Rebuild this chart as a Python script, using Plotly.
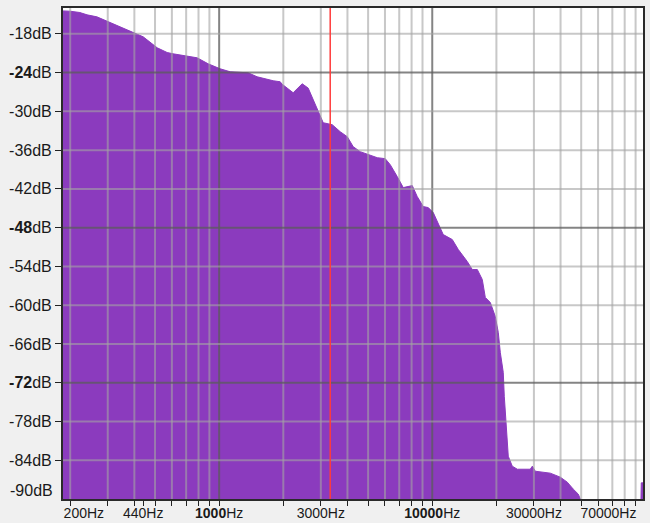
import math
import plotly.graph_objects as go

# ---- data ----
FREQ_HZ = [185, 200, 222, 240, 267, 301, 336, 390, 440, 512, 570, 608, 708, 788, 888,
           1011, 1126, 1368, 1508, 1609, 1680, 1793, 1934, 1976, 2225, 2453, 2617, 2762,
           2823, 2980, 3078, 3393, 3699, 3991, 4257, 4592, 5006, 5520, 6016, 6350, 6850,
           7310, 8056, 8503, 9073, 9577, 10108, 10670, 11260, 12416, 13248, 14600, 15410,
           16270, 17170, 17740, 18725, 19760, 20410, 20860, 21540, 21780, 22250, 22740,
           23740, 25070, 28840, 29480, 30450, 33200, 35810, 39900, 43030, 45920, 48460,
           49520, 50500, 95000, 95700, 97500]
LEVEL_DB = [-14.45, -14.5, -14.7, -15.06, -15.37, -16.1, -16.76, -17.64, -18.46, -20.16,
            -20.89, -21.09, -21.4, -21.71, -22.64, -23.41, -23.87, -24.03, -24.65, -24.9,
            -25.0, -25.26, -25.42, -25.8, -27.12, -25.73, -26.4, -28.2, -28.66, -30.52,
            -31.76, -32.06, -33.15, -33.92, -35.47, -36.24, -36.7, -37.17, -37.32, -38.25,
            -40.1, -41.8, -41.49, -43.19, -44.74, -44.89, -45.67, -47.52, -49.07, -49.84,
            -51.38, -53.24, -54.48, -54.48, -56.02, -58.8, -59.58, -61.74, -64.21, -67.3,
            -70.4, -74.1, -78.74, -83.38, -84.92, -85.39, -85.39, -84.92, -85.7, -85.8,
            -86.0, -86.62, -87.4, -88.48, -89.25, -90.0, -93.0, -93.0, -87.5, -87.5]

X_TICK_VALS = [200, 440, 1000, 3000, 10000, 30000, 70000]
X_TICK_TEXT = ["&nbsp;&nbsp;&nbsp;&nbsp;&nbsp;&nbsp;&nbsp;200Hz", "440Hz",
               "<b>1000</b>Hz", "3000Hz", "<b>10000</b>Hz", "30000Hz",
               "70000Hz&nbsp;&nbsp;"]
X_GRID_LIGHT = [200, 300, 400, 500, 600, 700, 800, 900,
                2000, 3000, 4000, 5000, 6000, 7000, 8000, 9000,
                20000, 30000, 40000, 50000, 60000, 70000, 80000, 90000]
X_GRID_DARK = [1000, 10000]

Y_TICK_VALS = [-18, -24, -30, -36, -42, -48, -54, -60, -66, -72, -78, -84]
Y_TICK_TEXT = ["-18dB", "<b>-24</b>dB", "-30dB", "-36dB", "-42dB", "<b>-48</b>dB",
               "-54dB", "-60dB", "-66dB", "<b>-72</b>dB", "-78dB", "-84dB"]
Y_BOTTOM_LABEL = "-90dB"
Y_GRID_LIGHT = [-18, -30, -36, -42, -54, -60, -66, -78, -84]
Y_GRID_DARK = [-24, -48, -72]

CURSOR_HZ = 3320
X_RANGE_HZ = [185, 97500]
Y_RANGE_DB = [-90, -14]
FLOOR_DB = -130

FILL = "#8b3bbe"
FONT = dict(family="Liberation Sans, Arial, sans-serif", size=16, color="#1a1a1a")

fig = go.Figure()
fig.add_trace(go.Scatter(x=FREQ_HZ, y=[FLOOR_DB] * len(FREQ_HZ), mode="lines",
                         line=dict(width=0), hoverinfo="skip", showlegend=False))
fig.add_trace(go.Scatter(x=FREQ_HZ, y=LEVEL_DB, mode="lines", fill="tonexty",
                         fillcolor=FILL, line=dict(color=FILL, width=1),
                         showlegend=False))

shapes = []
for f in X_GRID_LIGHT:
    shapes.append(dict(type="line", xref="x", yref="paper", x0=f, x1=f, y0=0, y1=1,
                       layer="above", opacity=0.6, line=dict(color="#a4a4a4", width=2)))
for f in X_GRID_DARK:
    shapes.append(dict(type="line", xref="x", yref="paper", x0=f, x1=f, y0=0, y1=1,
                       layer="above", opacity=0.75, line=dict(color="#5c5c5c", width=2)))
for d in Y_GRID_LIGHT:
    shapes.append(dict(type="line", xref="paper", yref="y", x0=0, x1=1, y0=d, y1=d,
                       layer="above", opacity=0.6, line=dict(color="#a4a4a4", width=2)))
for d in Y_GRID_DARK:
    shapes.append(dict(type="line", xref="paper", yref="y", x0=0, x1=1, y0=d, y1=d,
                       layer="above", opacity=0.75, line=dict(color="#5c5c5c", width=2)))
shapes.append(dict(type="line", xref="x", yref="paper", x0=CURSOR_HZ, x1=CURSOR_HZ,
                   y0=0, y1=1, layer="above", line=dict(color="#ff3b3b", width=1.5)))

fig.update_layout(
    width=650, height=523,
    margin=dict(l=63, r=7, t=8, b=24),
    paper_bgcolor="#f0f0f0", plot_bgcolor="#ffffff",
    font=FONT,
    shapes=shapes,
    xaxis=dict(type="log", range=[math.log10(X_RANGE_HZ[0]), math.log10(X_RANGE_HZ[1])],
               tickmode="array", tickvals=X_TICK_VALS, ticktext=X_TICK_TEXT,
               ticks="outside", ticklen=5, tickwidth=1, tickcolor="#222",
               showgrid=False, zeroline=False, automargin=False,
               showline=True, linecolor="#2a2a2a", linewidth=2, mirror=True,
               tickangle=0, ticklabelstandoff=-5, tickfont=dict(size=14),
               minor=dict(tickmode="array", tickvals=X_GRID_LIGHT + X_GRID_DARK,
                          ticks="outside", ticklen=5, tickwidth=1, tickcolor="#222",
                          showgrid=False)),
    yaxis=dict(range=Y_RANGE_DB, tickmode="array", tickvals=Y_TICK_VALS,
               ticktext=Y_TICK_TEXT, ticks="outside", ticklen=6, tickwidth=1,
               tickcolor="#222", showgrid=False, zeroline=False, automargin=False,
               showline=True, linecolor="#2a2a2a", linewidth=2, mirror=True),
    annotations=[dict(text=Y_BOTTOM_LABEL, xref="paper", yref="y", x=0, y=Y_RANGE_DB[0],
                      xanchor="right", yanchor="middle", xshift=-8, yshift=9,
                      showarrow=False, font=FONT)],
)

fig.write_html(
    "out.html",
    config={"displayModeBar": False},
    post_script="document.body.style.margin='0';document.body.style.overflow='hidden';"
                "document.documentElement.style.overflow='hidden';",
)
